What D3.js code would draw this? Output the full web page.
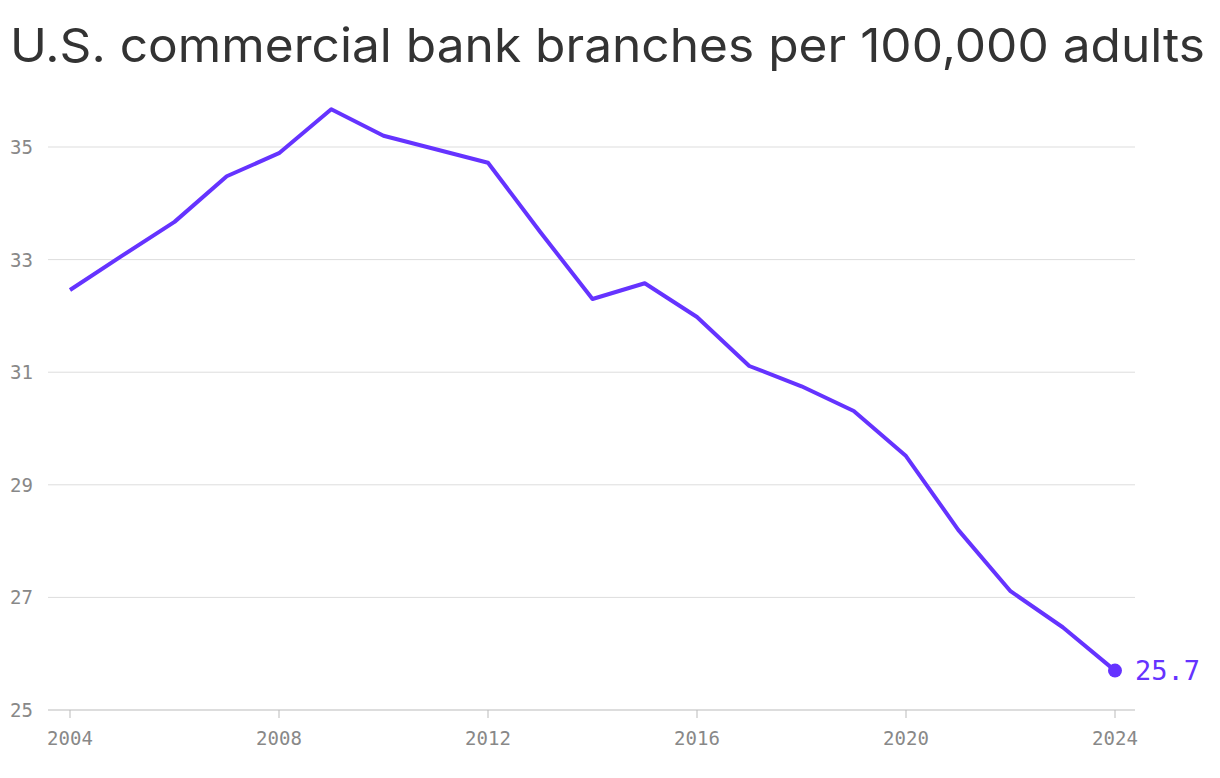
<!DOCTYPE html>
<html><head><meta charset="utf-8">
<script src="https://cdn.jsdelivr.net/npm/d3@7"></script>
<style>body{margin:0;background:#fff}</style></head>
<body><svg id="c" width="1220" height="778"></svg>
<script>
const years=[2004,2005,2006,2007,2008,2009,2010,2011,2012,2013,2014,2015,2016,2017,2018,2019,2020,2021,2022,2023,2024];
const values=[32.46,33.07,33.67,34.48,34.89,35.67,35.2,34.96,34.72,33.49,32.3,32.58,31.98,31.11,30.75,30.31,29.51,28.2,27.11,26.47,25.7];
const yTicks=[25,27,29,31,33,35];
const xTicks=[2004,2008,2012,2016,2020,2024];
const svg=d3.select("#c");
const x=d3.scaleLinear().domain([2004,2024]).range([70,1115]);
const y=d3.scaleLinear().domain([25,35]).range([710,147]);
svg.append("text").attr("x",10).attr("y",62).attr("font-family","Inter, sans-serif").attr("font-size",47).attr("fill","#333").attr("textLength",1195).attr("lengthAdjust","spacingAndGlyphs").text("U.S. commercial bank branches per 100,000 adults");
const g=svg.append("g");
yTicks.forEach(t=>{
 g.append("line").attr("x1",48).attr("x2",1135).attr("y1",y(t)).attr("y2",y(t)).attr("stroke",t===25?"#bbb":"#ddd").attr("stroke-width",1);
 g.append("text").attr("x",10).attr("y",y(t)+7).attr("font-family","DejaVu Sans Mono, monospace").attr("font-size",19).attr("fill","#888").text(t);
});
xTicks.forEach(t=>{
 g.append("line").attr("x1",x(t)).attr("x2",x(t)).attr("y1",710).attr("y2",718).attr("stroke","#bbb");
 g.append("text").attr("x",x(t)).attr("y",745).attr("text-anchor","middle").attr("font-family","DejaVu Sans Mono, monospace").attr("font-size",19).attr("fill","#888").text(t);
});
const line=d3.line().x((d,i)=>x(years[i])).y(d=>y(d));
svg.append("path").attr("d",line(values)).attr("fill","none").attr("stroke","#6533ff").attr("stroke-width",4).attr("stroke-linejoin","round");
const n=values.length-1;
svg.append("circle").attr("cx",x(years[n])).attr("cy",y(values[n])).attr("r",7).attr("fill","#6533ff");
svg.append("text").attr("x",x(years[n])+20).attr("y",y(values[n])+9).attr("font-family","DejaVu Sans Mono, monospace").attr("font-size",27).attr("fill","#6533ff").text(values[n]);
</script></body></html>
